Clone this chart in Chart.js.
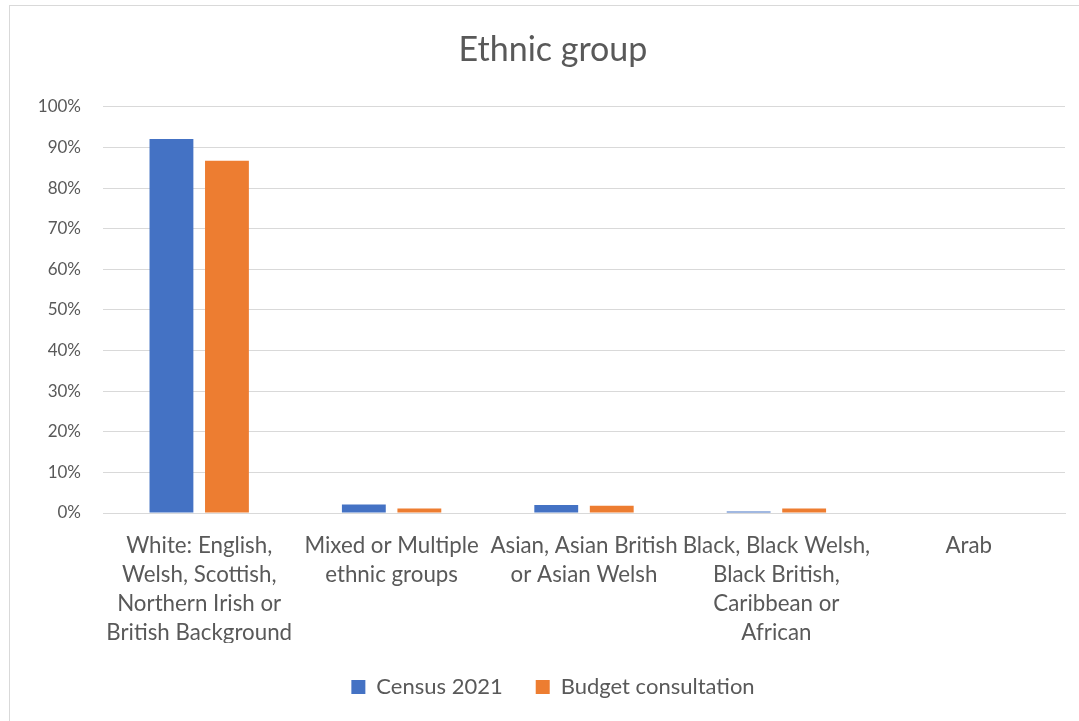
<!DOCTYPE html>
<html>
<head>
<meta charset="utf-8">
<script src="https://cdn.jsdelivr.net/npm/chart.js@4"></script>
<style>
  body { margin: 0; background: #fff; overflow: hidden; }
  #wrap {
    position: absolute; left: 9px; top: 5px;
    width: 1088px; height: 720px;
    border: 1px solid #d9d9d9; box-sizing: border-box;
  }
  canvas { display: block; }
</style>
</head>
<body>
<div id="wrap"><canvas id="chart" width="1086" height="718"></canvas></div>
<script>
/* Ethnic group — census vs budget consultation */

const categories = [
  ['White: English,', 'Welsh, Scottish,', 'Northern Irish or', 'British Background'],
  ['Mixed or Multiple', 'ethnic groups'],
  ['Asian, Asian British', 'or Asian Welsh'],
  ['Black, Black Welsh,', 'Black British,', 'Caribbean or', 'African'],
  'Arab'
];
const census2021 = [92.1, 2.1, 2.0, 0.4, 0.0];
const budgetConsultation = [86.7, 1.1, 1.8, 1.1, 0.0];
const yTicks = [0, 10, 20, 30, 40, 50, 60, 70, 80, 90, 100];

const grey = '#595959';
const fontFamily = 'Lato, "Open Sans", sans-serif';

new Chart(document.getElementById('chart'), {
  type: 'bar',
  data: {
    labels: categories,
    datasets: [
      { label: 'Census 2021', data: census2021, backgroundColor: '#4472C4',
        barPercentage: 0.79, categoryPercentage: 0.577 },
      { label: 'Budget consultation', data: budgetConsultation, backgroundColor: '#ED7D31',
        barPercentage: 0.79, categoryPercentage: 0.577 }
    ]
  },
  options: {
    responsive: false,
    animation: false,
    layout: { padding: { left: 0, right: 0, top: 0, bottom: 16 } },
    plugins: {
      title: {
        display: true,
        text: 'Ethnic group',
        color: grey,
        font: { family: fontFamily, size: 34, weight: 'normal' },
        padding: { top: 24, bottom: 36 }
      },
      legend: {
        position: 'bottom',
        labels: {
          color: grey,
          font: { family: fontFamily, size: 22 },
          boxWidth: 14, boxHeight: 14,
          padding: 33
        }
      },
      tooltip: { enabled: false }
    },
    scales: {
      x: {
        grid: { display: false, drawTicks: false },
        border: { color: '#d9d9d9' },
        ticks: {
          color: grey,
          font: { family: fontFamily, size: 22.3, lineHeight: 1.3 },
          maxRotation: 0, autoSkip: false, padding: 18
        },
        afterFit: s => { s.height = 130; }
      },
      y: {
        min: 0, max: 100,
        afterBuildTicks: s => { s.ticks = yTicks.map(v => ({ value: v })); },
        grid: { color: '#d9d9d9', drawTicks: false },
        border: { display: false },
        ticks: {
          color: grey,
          font: { family: fontFamily, size: 17 },
          padding: 22,
          callback: v => v + '%'
        },
        afterFit: s => { s.width = 93; }
      },
      // empty right-hand axis: keeps the plot's right edge while title and legend stay centred on the full frame
      yRight: {
        type: 'linear',
        position: 'right',
        display: true,
        grid: { display: false, drawTicks: false },
        border: { display: false },
        ticks: { display: false },
        afterFit: s => { s.width = 31; }
      }
    }
  }
});
</script>
</body>
</html>
